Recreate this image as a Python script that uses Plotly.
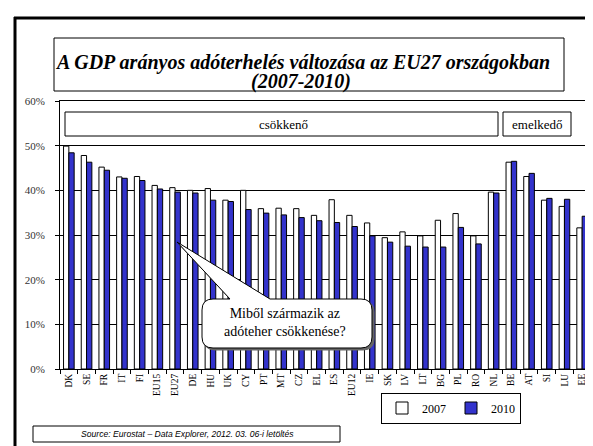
import plotly.graph_objects as go

categories = ["DK", "SE", "FR", "IT", "FI", "EU15", "EU27", "DE", "HU", "UK",
              "CY", "PT", "MT", "CZ", "EL", "ES", "EU12", "IE", "SK", "LV",
              "LT", "BG", "PL", "RO", "NL", "BE", "AT", "SI", "LU", "EE"]
values_2007 = [49.9, 47.8, 45.2, 43.0, 43.1, 41.1, 40.6, 40.0, 40.4, 37.8,
               40.0, 35.9, 36.0, 35.9, 34.4, 37.9, 34.4, 32.7, 29.4, 30.7,
               29.8, 33.3, 34.8, 29.8, 39.6, 46.3, 43.1, 37.8, 36.4, 31.6]
values_2010 = [48.4, 46.3, 44.5, 42.7, 42.2, 40.3, 39.6, 39.4, 37.8, 37.5,
               35.7, 34.9, 34.5, 33.9, 33.2, 32.8, 31.9, 29.8, 28.4, 27.5,
               27.3, 27.3, 31.7, 28.0, 39.4, 46.5, 43.8, 38.2, 38.0, 34.2]
series_names = ["2007", "2010"]
y_ticks = [0, 10, 20, 30, 40, 50, 60]
y_tick_labels = ["0%", "10%", "20%", "30%", "40%", "50%", "60%"]

title_lines = ["A GDP arányos adóterhelés változása az EU27 országokban", "(2007-2010)"]
label_down = "csökkenő"
label_up = "emelkedő"
callout_text = "Miből származik az<br>adóteher csökkenése?"
source_text = "Source: Eurostat – Data Explorer, 2012. 03. 06-i letöltés"

W, H = 593, 446
L, R, T, B = 52, 10, 93, 85
PW, PH = W - L - R, H - T - B

def px(x):
    return (x - L) / PW

def py(y):
    return (H - B - y) / PH

SERIF = "Liberation Serif"
SANS = "Liberation Sans"

fig = go.Figure()
fig.add_trace(go.Bar(x=categories, y=values_2007, name=series_names[0],
                     marker=dict(color="white", line=dict(color="black", width=1))))
fig.add_trace(go.Bar(x=categories, y=values_2010, name=series_names[1],
                     marker=dict(color="#3333CC", line=dict(color="black", width=1))))

shapes = []
shapes.append(dict(type="line", xref="paper", yref="paper", x0=px(6), x1=px(593), y0=py(10), y1=py(10),
                   line=dict(color="black", width=3), layer="above"))
shapes.append(dict(type="line", xref="paper", yref="paper", x0=px(7), x1=px(7), y0=py(9), y1=py(446),
                   line=dict(color="black", width=3), layer="above"))
shapes.append(dict(type="rect", xref="paper", yref="paper", x0=px(46), x1=px(556), y0=py(30), y1=py(83),
                   line=dict(color="black", width=1), fillcolor="white", layer="above"))
shapes.append(dict(type="rect", xref="paper", yref="paper", x0=px(57), x1=px(490), y0=py(104), y1=py(128),
                   line=dict(color="black", width=1), fillcolor="white", layer="above"))
shapes.append(dict(type="rect", xref="paper", yref="paper", x0=px(495), x1=px(563), y0=py(104), y1=py(128),
                   line=dict(color="black", width=1), fillcolor="white", layer="above"))
shapes.append(dict(type="rect", xref="paper", yref="paper", x0=px(25), x1=px(332), y0=py(418), y1=py(434),
                   line=dict(color="black", width=1), fillcolor="white", layer="above"))

def bubble_path(dx=0, dy=0):
    x0, x1, y0, y1, r = 194 + dx, 364 + dx, 291 + dy, 340 + dy, 11
    tip = (169 + dx, 234 + dy)
    bl, br = 222 + dx, 262 + dx
    def P(x, y):
        return f"{px(x):.5f},{py(y):.5f}"
    path = f"M {P(x0 + r, y0)} L {P(bl, y0)} L {P(*tip)} L {P(br, y0)} L {P(x1 - r, y0)} "
    path += f"Q {P(x1, y0)} {P(x1, y0 + r)} L {P(x1, y1 - r)} Q {P(x1, y1)} {P(x1 - r, y1)} "
    path += f"L {P(x0 + r, y1)} Q {P(x0, y1)} {P(x0, y1 - r)} L {P(x0, y0 + r)} Q {P(x0, y0)} {P(x0 + r, y0)} Z"
    return path

shapes.append(dict(type="path", xref="paper", yref="paper", path=bubble_path(2, 2),
                   line=dict(color="#666666", width=1), fillcolor="#666666", layer="above"))
shapes.append(dict(type="path", xref="paper", yref="paper", path=bubble_path(),
                   line=dict(color="black", width=1), fillcolor="white", layer="above"))

annotations = [
    dict(xref="paper", yref="paper", x=px(294), y=py(54.5), text="<b><i>" + title_lines[0] + "</i></b>",
         showarrow=False, font=dict(family=SERIF, size=20, color="black"), xanchor="center", yanchor="middle"),
    dict(xref="paper", yref="paper", x=px(293), y=py(73.5), text="<b><i>" + title_lines[1] + "</i></b>",
         showarrow=False, font=dict(family=SERIF, size=20, color="black"), xanchor="center", yanchor="middle"),
    dict(xref="paper", yref="paper", x=px(275), y=py(116), text=label_down, showarrow=False,
         font=dict(family=SERIF, size=13, color="black"), xanchor="center", yanchor="middle"),
    dict(xref="paper", yref="paper", x=px(529), y=py(116), text=label_up, showarrow=False,
         font=dict(family=SERIF, size=13, color="black"), xanchor="center", yanchor="middle"),
    dict(xref="paper", yref="paper", x=px(277), y=py(314), text=callout_text, showarrow=False,
         font=dict(family=SERIF, size=14, color="black"), xanchor="center", yanchor="middle", align="center"),
    dict(xref="paper", yref="paper", x=px(179), y=py(426), text="<i>" + source_text + "</i>", showarrow=False,
         font=dict(family=SANS, size=8.6, color="black"), xanchor="center", yanchor="middle"),
]

fig.update_layout(
    width=W, height=H,
    margin=dict(l=L, r=R, t=T, b=B, pad=0),
    paper_bgcolor="white", plot_bgcolor="white",
    font=dict(family=SERIF, color="black"),
    barmode="group", bargap=0.4, bargroupgap=0,
    showlegend=True,
    legend=dict(orientation="h", x=px(443), y=py(400), xanchor="center", yanchor="middle",
                bordercolor="black", borderwidth=1, bgcolor="white",
                font=dict(family=SERIF, size=12, color="black"),
                itemwidth=30, traceorder="normal", tracegroupgap=0),
    shapes=shapes, annotations=annotations,
)
fig.update_xaxes(type="category", range=[-0.5, len(categories) - 0.5],
                 showline=True, linecolor="black", linewidth=1, mirror=True,
                 ticks="outside", tickson="boundaries", ticklen=4, tickcolor="black",
                 tickangle=-90, tickfont=dict(family=SERIF, size=9.5, color="black"),
                 showgrid=False)
fig.update_yaxes(range=[0, 60], tickvals=y_ticks, ticktext=y_tick_labels,
                 showline=True, linecolor="black", linewidth=1, mirror=True,
                 ticks="outside", ticklen=4, tickcolor="black", ticklabelstandoff=8,
                 tickfont=dict(family=SERIF, size=11, color="#333333"),
                 showgrid=True, gridcolor="black", gridwidth=1, zeroline=False)

fig.write_html("out.html")
